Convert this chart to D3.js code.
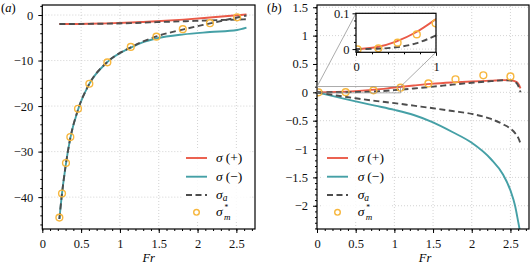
<!DOCTYPE html>
<html>
<head>
<meta charset="utf-8">
<script src="https://cdn.jsdelivr.net/npm/d3@7"></script>
<style>
  body { margin: 0; background: #fff; }
  .domain { display: none; }
  .grid line { stroke: #c8c8c8; stroke-width: 0.8; stroke-dasharray: 1,2; }
</style>
</head>
<body>
<div id="chart"></div>
<script>
// Panel (a)
const frA = [0.22, 0.25, 0.3, 0.36, 0.46, 0.6, 0.84, 1.14, 1.3, 1.47, 1.82, 2.16, 2.51, 2.63];
const sigmaPlusA = [-1.98, -1.98, -1.98, -1.97, -1.96, -1.93, -1.84, -1.66, -1.53, -1.38, -1.01, -0.55, -0.05, 0.12];
const sigmaMinusA = [-44.8, -39.8, -33.2, -27.1, -20.8, -15.3, -10.3, -7.15, -5.95, -5.15, -4.25, -3.74, -3.28, -2.75];
const sigmaAUpperA = [-1.98, -1.98, -1.98, -1.97, -1.96, -1.94, -1.89, -1.77, -1.68, -1.57, -1.37, -1.18, -1.0, -0.94];
const sigmaALowerA = [-44.8, -39.8, -33.2, -27.1, -20.8, -15.3, -10.3, -7.1, -5.8, -4.7, -3.15, -1.85, -0.55, -0.1];
const frMA = [0.22, 0.254, 0.305, 0.361, 0.46, 0.606, 0.838, 1.14, 1.47, 1.81, 2.16, 2.51];
const sigmaMA = [-44.5, -39.2, -32.5, -26.8, -20.6, -15.1, -10.4, -7.0, -4.75, -3.1, -1.8, -0.5];

// Panel (b)
const frB = [0, 0.25, 0.5, 0.75, 1, 1.25, 1.5, 1.75, 2, 2.25, 2.4, 2.5, 2.56, 2.6, 2.63];
const sigmaPlusB = [0, 0.005, 0.021, 0.047, 0.084, 0.12, 0.153, 0.175, 0.192, 0.206, 0.215, 0.212, 0.195, 0.155, 0.07];
const sigmaMinusB = [0, -0.08, -0.16, -0.235, -0.31, -0.40, -0.53, -0.70, -0.89, -1.18, -1.44, -1.73, -2.0, -2.28, -2.5];
const sigmaAUpperB = [0, 0.001, 0.005, 0.016, 0.038, 0.068, 0.10, 0.135, 0.168, 0.197, 0.213, 0.21, 0.185, 0.12, 0.0];
const sigmaALowerB = [0, -0.055, -0.105, -0.15, -0.19, -0.235, -0.28, -0.33, -0.38, -0.47, -0.56, -0.64, -0.72, -0.8, -0.9];
const frMB = [0.02, 0.37, 0.73, 1.08, 1.44, 1.79, 2.15, 2.5];
const sigmaMB = [0, 0.003, 0.035, 0.082, 0.157, 0.23, 0.30, 0.28];

// Inset of panel (b)
const frMInset = [0.02, 0.28, 0.52, 0.76, 0.995];
const sigmaMInset = [-0.001, 0.002, 0.018, 0.041, 0.072];
const zoomBox = { x: [0, 1.08], y: [-0.01, 0.1] };

const xTicks = [0, 0.5, 1, 1.5, 2, 2.5];
const yTicksA = [0, -10, -20, -30, -40];
const yTicksB = [1.5, 1, 0.5, 0, -0.5, -1, -1.5, -2];

const colors = { plus: '#ea5a48', minus: '#45a0a6', avg: '#4d4d4d', mark: '#f7b73e' };
const font = '"Liberation Serif", "DejaVu Serif", serif';
const width = 532, height = 266;

const svg = d3.select('#chart').append('svg')
  .attr('width', width)
  .attr('height', height)
  .attr('font-family', font)
  .style('display', 'block');

// Draws the lines and markers of one set of series into a clipped group
function drawSeries(g, x, y, fr, series, frM, sigM, r) {
  const line = d3.line()
    .x((d, i) => x(fr[i]))
    .y(d => y(d))
    .curve(d3.curveMonotoneX);
  series.forEach(s => {
    g.append('path')
      .attr('d', line(s.values))
      .attr('fill', 'none')
      .attr('stroke', s.color)
      .attr('stroke-width', 1.9)
      .attr('stroke-dasharray', s.dash || null);
  });
  g.selectAll('circle.m')
    .data(sigM)
    .enter()
    .append('circle')
    .attr('class', 'm')
    .attr('cx', (d, i) => x(frM[i]))
    .attr('cy', d => y(d))
    .attr('r', r)
    .attr('fill', 'none')
    .attr('stroke', colors.mark)
    .attr('stroke-width', 1.4);
}

// Axes, minor ticks, grid for a plot area
function drawFrame(g, x, y, opts) {
  const [x0, x1] = x.range();
  const [y0, y1] = y.range();
  const grid = g.append('g').attr('class', 'grid');
  grid.selectAll('line.gx').data(opts.xMajor).enter().append('line')
    .attr('x1', d => x(d)).attr('x2', d => x(d)).attr('y1', y0).attr('y2', y1);
  grid.selectAll('line.gy').data(opts.yMajor).enter().append('line')
    .attr('y1', d => y(d)).attr('y2', d => y(d)).attr('x1', x0).attr('x2', x1);

  const axes = [
    g.append('g').attr('transform', `translate(0,${y0})`)
      .call(d3.axisBottom(x).tickValues(opts.xMinor).tickSize(2).tickFormat('')),
    g.append('g').attr('transform', `translate(0,${y0})`)
      .call(d3.axisBottom(x).tickValues(opts.xMajor).tickSize(opts.tick).tickPadding(opts.padX)
        .tickFormat(opts.xFormat)),
    g.append('g').attr('transform', `translate(${x0},0)`)
      .call(d3.axisLeft(y).tickValues(opts.yMinor).tickSize(2).tickFormat('')),
    g.append('g').attr('transform', `translate(${x0},0)`)
      .call(d3.axisLeft(y).tickValues(opts.yMajor).tickSize(opts.tick).tickPadding(opts.padY)
        .tickFormat(opts.yFormat))
  ];
  axes.forEach(a => a.attr('font-family', font).attr('font-size', opts.fontSize));
  g.selectAll('.tick line').attr('stroke', '#000').attr('stroke-width', 1);
  g.selectAll('.tick text').attr('fill', '#111');
}

function border(g, x, y) {
  const [x0, x1] = x.range();
  const [y0, y1] = y.range();
  g.append('rect')
    .attr('x', x0).attr('y', y1)
    .attr('width', x1 - x0).attr('height', y0 - y1)
    .attr('fill', 'none').attr('stroke', '#000').attr('stroke-width', 1.2);
}

function clip(id, x, y) {
  const [x0, x1] = x.range();
  const [y0, y1] = y.range();
  svg.append('clipPath').attr('id', id).append('rect')
    .attr('x', x0).attr('y', y1).attr('width', x1 - x0).attr('height', y0 - y1);
}

function legend(g, lx, labelX) {
  const rows = [158, 176.7, 195, 212.3];
  g.append('rect')
    .attr('x', lx - 4).attr('y', 149).attr('width', 68).attr('height', 72)
    .attr('fill', '#fff').attr('fill-opacity', 0.85);
  const items = [
    { color: colors.plus, sign: '(+)' },
    { color: colors.minus, sign: '(\u2212)' },
    { color: colors.avg, dash: '6,3.5', sub: 'a' },
    { mark: true, sub: 'm', sup: '*' }
  ];
  items.forEach((it, i) => {
    if (it.mark) {
      g.append('circle').attr('cx', lx + 10.5).attr('cy', rows[i]).attr('r', 2.8)
        .attr('fill', 'none').attr('stroke', colors.mark).attr('stroke-width', 1.4);
    } else {
      g.append('line').attr('x1', lx).attr('x2', lx + 21).attr('y1', rows[i]).attr('y2', rows[i])
        .attr('stroke', it.color).attr('stroke-width', 1.9).attr('stroke-dasharray', it.dash || null);
    }
    const t = g.append('text').attr('x', labelX).attr('y', rows[i] + 4).attr('font-size', 13.5);
    t.append('tspan').attr('font-style', 'italic').text('\u03c3');
    if (it.sign) t.append('tspan').attr('dx', 3).text(it.sign);
    if (it.sub && !it.sup) {
      t.append('tspan').attr('font-size', 9.5).attr('font-style', 'italic').attr('dy', 2).text(it.sub);
    }
    if (it.sup) {
      g.append('text').attr('x', labelX + 8.5).attr('y', rows[i] - 2.3)
        .attr('font-size', 7.5).text(it.sup);
      g.append('text').attr('x', labelX + 8).attr('y', rows[i] + 8)
        .attr('font-size', 9).attr('font-style', 'italic').text(it.sub);
    }
  });
}

function frLabel(cx) {
  svg.append('text').attr('x', cx).attr('y', 262).attr('text-anchor', 'middle')
    .attr('font-size', 12.5).attr('font-style', 'italic').text('Fr');
}

function panelLabel(x, letter) {
  const t = svg.append('text').attr('x', x).attr('y', 12).attr('font-size', 12.5);
  t.append('tspan').text('(');
  t.append('tspan').attr('font-style', 'italic').text(letter);
  t.append('tspan').text(')');
}

const minorX = d3.range(0, 2.75, 0.1);
const fmt = d3.format('~g');

// ---------- Panel (a) ----------
const xA = d3.scaleLinear().domain([0, 2.74]).range([42.3, 255]);
const yA = d3.scaleLinear().domain([-47, 2.2]).range([229, 5]);
const gA = svg.append('g');
drawFrame(gA, xA, yA, {
  xMajor: xTicks, xMinor: minorX, yMajor: yTicksA, yMinor: d3.range(-46, 2.1, 2),
  tick: 4, padX: 6, padY: 5, xFormat: fmt, yFormat: fmt, fontSize: 12.5
});
clip('clipA', xA, yA);
drawSeries(gA.append('g').attr('clip-path', 'url(#clipA)'), xA, yA, frA, [
  { values: sigmaPlusA, color: colors.plus },
  { values: sigmaMinusA, color: colors.minus },
  { values: sigmaAUpperA, color: colors.avg, dash: '6,3.5' },
  { values: sigmaALowerA, color: colors.avg, dash: '6,3.5' }
], frMA, sigmaMA, 3.4);
border(gA, xA, yA);
legend(gA, 186, 216);
frLabel(148.7);
panelLabel(1, 'a');

// ---------- Panel (b) ----------
const xB = d3.scaleLinear().domain([0, 2.74]).range([317, 529]);
const yB = d3.scaleLinear().domain([-2.41, 1.54]).range([229, 5]);
const gB = svg.append('g');
drawFrame(gB, xB, yB, {
  xMajor: xTicks, xMinor: minorX, yMajor: yTicksB, yMinor: d3.range(-2.4, 1.55, 0.1),
  tick: 4, padX: 6, padY: 5, xFormat: fmt, yFormat: fmt, fontSize: 12.5
});
clip('clipB', xB, yB);
const seriesB = [
  { values: sigmaPlusB, color: colors.plus },
  { values: sigmaMinusB, color: colors.minus },
  { values: sigmaAUpperB, color: colors.avg, dash: '6,3.5' },
  { values: sigmaALowerB, color: colors.avg, dash: '6,3.5' }
];
drawSeries(gB.append('g').attr('clip-path', 'url(#clipB)'), xB, yB, frB, seriesB, frMB, sigmaMB, 3.4);
border(gB, xB, yB);
legend(gB, 327, 357.7);
frLabel(425);
panelLabel(267, 'b');

// zoom indicator and connectors
const xI = d3.scaleLinear().domain([0, 1]).range([356, 436]);
const yI = d3.scaleLinear().domain([-0.009, 0.1]).range([52.3, 13.3]);
gB.append('rect')
  .attr('x', xB(zoomBox.x[0])).attr('y', yB(zoomBox.y[1]))
  .attr('width', xB(zoomBox.x[1]) - xB(zoomBox.x[0]))
  .attr('height', yB(zoomBox.y[0]) - yB(zoomBox.y[1]))
  .attr('fill', 'none').attr('stroke', '#888').attr('stroke-width', 0.7);
gB.append('line')
  .attr('x1', xI(0)).attr('y1', yI(0.1)).attr('x2', xB(zoomBox.x[0])).attr('y2', yB(zoomBox.y[1]))
  .attr('stroke', '#888').attr('stroke-width', 0.7);
gB.append('line')
  .attr('x1', xI(1)).attr('y1', yI(-0.009)).attr('x2', xB(zoomBox.x[1])).attr('y2', yB(zoomBox.y[1]))
  .attr('stroke', '#888').attr('stroke-width', 0.7);

// ---------- Inset ----------
const gI = svg.append('g');
gI.append('rect').attr('x', 356).attr('y', 13.3).attr('width', 80).attr('height', 39)
  .attr('fill', '#fff');
drawFrame(gI, xI, yI, {
  xMajor: [0, 1], xMinor: [0.2, 0.4, 0.6, 0.8], yMajor: [0, 0.1], yMinor: d3.range(0.02, 0.09, 0.02),
  tick: 3.5, padX: 6, padY: 3, xFormat: fmt, yFormat: fmt, fontSize: 12.5
});
clip('clipI', xI, yI);
drawSeries(gI.append('g').attr('clip-path', 'url(#clipI)'), xI, yI, frB.slice(0, 5),
  seriesB.map(s => ({ ...s, values: s.values.slice(0, 5) })), frMInset, sigmaMInset, 3.4);
border(gI, xI, yI);
</script>
</body>
</html>
